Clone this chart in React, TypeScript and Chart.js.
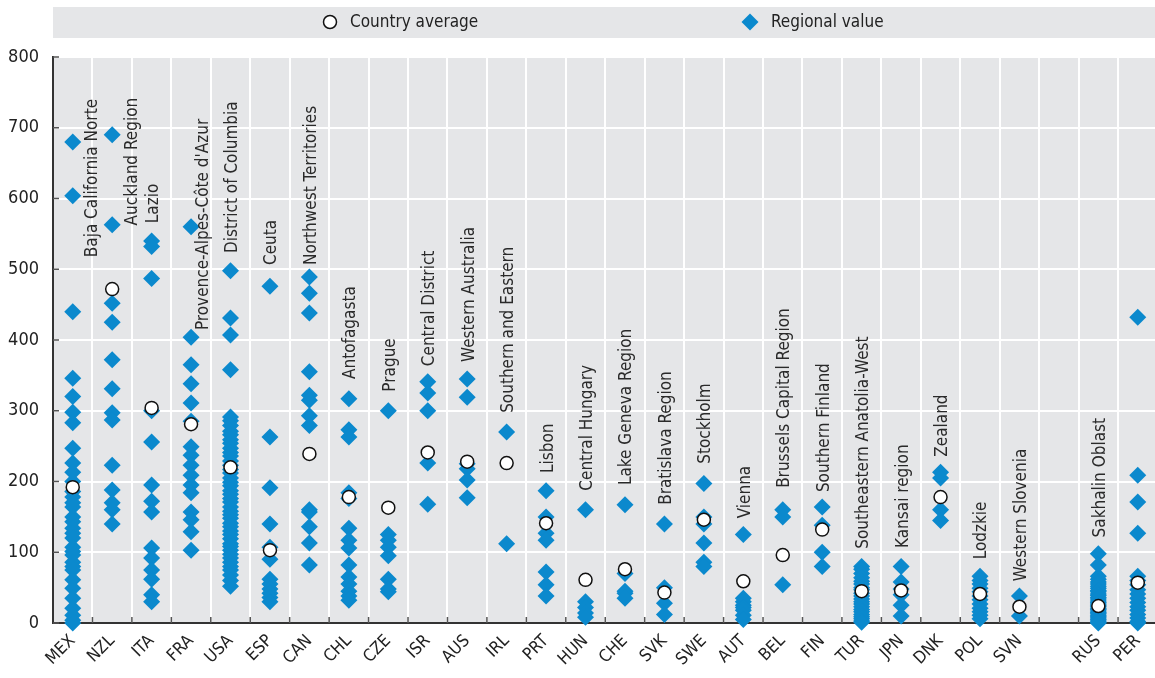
import React, { useEffect, useRef } from 'react';
import { Chart, registerables } from 'chart.js';

Chart.register(...registerables);

const FONT = "'Liberation Sans Narrow', 'Arial Narrow', 'DejaVu Sans Condensed', sans-serif";
const BLUE = '#0b89cd';

const countries = ['MEX', 'NZL', 'ITA', 'FRA', 'USA', 'ESP', 'CAN', 'CHL', 'CZE', 'ISR', 'AUS', 'IRL', 'PRT', 'HUN', 'CHE', 'SVK', 'SWE', 'AUT', 'BEL', 'FIN', 'TUR', 'JPN', 'DNK', 'POL', 'SVN', '', 'RUS', 'PER'];

const countryAverages: (number | null)[] = [192, 472, 304, 281, 220, 103, 239, 178, 163, 241, 228, 226, 141, 61, 76, 43, 146, 59, 96, 132, 45, 46, 178, 41, 23, null, 24, 57];

const regionalValues: number[][] = [
  // MEX
  [680, 604, 440, 346, 320, 298, 283, 247, 226, 213, 200, 186, 178, 170, 164, 150, 143, 134, 127, 120, 107, 101, 96, 86, 80, 75, 61, 49, 35, 21, 11, 4, 0],
  // NZL
  [690, 563, 452, 425, 372, 331, 297, 287, 223, 188, 170, 160, 140],
  // ITA
  [540, 532, 487, 300, 256, 195, 172, 157, 106, 92, 75, 62, 40, 30],
  // FRA
  [560, 404, 365, 338, 311, 285, 249, 237, 223, 209, 195, 184, 157, 146, 129, 103],
  // USA
  [498, 431, 407, 358, 291, 286, 279, 271, 266, 259, 254, 247, 241, 236, 229, 223, 217, 212, 205, 199, 194, 187, 182, 176, 171, 164, 158, 153, 148, 141, 136, 130, 125, 119, 112, 108, 103, 97, 92, 86, 80, 75, 68, 60, 52],
  // ESP
  [476, 263, 191, 140, 107, 90, 62, 55, 48, 42, 36, 30],
  // CAN
  [489, 466, 438, 355, 322, 315, 293, 279, 160, 157, 136, 113, 82],
  // CHL
  [317, 273, 263, 184, 176, 134, 117, 106, 82, 65, 55, 45, 38, 32],
  // CZE
  [300, 125, 117, 107, 95, 62, 48, 44],
  // ISR
  [341, 325, 300, 226, 168],
  // AUS
  [345, 319, 225, 218, 202, 177],
  // IRL
  [270, 112],
  // PRT
  [187, 150, 127, 117, 72, 54, 38],
  // HUN
  [160, 30, 22, 14, 8],
  // CHE
  [167, 70, 45, 42, 35],
  // SVK
  [140, 50, 28, 12],
  // SWE
  [197, 150, 140, 113, 86, 80],
  // AUT
  [125, 35, 30, 25, 22, 18, 11, 5],
  // BEL
  [160, 150, 54],
  // FIN
  [164, 138, 100, 80],
  // TUR
  [80, 76, 70, 64, 59, 55, 50, 47, 42, 38, 34, 30, 27, 23, 19, 16, 12, 9, 6, 3, 1],
  // JPN
  [80, 58, 48, 40, 25, 10],
  // DNK
  [213, 205, 160, 145],
  // POL
  [66, 60, 55, 49, 44, 38, 33, 27, 21, 16, 11, 6],
  // SVN
  [38, 10],
  // (gap)
  [],
  // RUS
  [98, 82, 66, 62, 58, 55, 52, 49, 46, 44, 41, 39, 36, 34, 31, 29, 27, 25, 23, 21, 19, 17, 15, 13, 11, 9, 7, 5, 3, 1, 0],
  // PER
  [432, 209, 171, 127, 66, 60, 54, 47, 41, 35, 29, 23, 18, 12, 7, 2, 0],
];

const regionLabels = ['Baja California Norte', 'Auckland Region', 'Lazio', "Provence-Alpes-Côte d'Azur", 'District of Columbia', 'Ceuta', 'Northwest Territories', 'Antofagasta', 'Prague', 'Central District', 'Western Australia', 'Southern and Eastern', 'Lisbon', 'Central Hungary', 'Lake Geneva Region', 'Bratislava Region', 'Stockholm', 'Vienna', 'Brussels Capital Region', 'Southern Finland', 'Southeastern Anatolia-West', 'Kansai region', 'Zealand', 'Lodzkie', 'Western Slovenia', '', 'Sakhalin Oblast', ''];

// where each rotated region label starts (value on the y axis)
const regionLabelStart = [517, 562, 565, 414, 523, 506, 506, 345, 327, 363, 369, 297, 212, 187, 195, 167, 225, 148, 191, 185, 105, 106, 235, 90, 59, 0, 121, 0];

const yTicks = [0, 100, 200, 300, 400, 500, 600, 700, 800];

// layout-only: horizontal shift (px) of each region label from its category centre
const labelShift = (i: number) => (i === 0 || i === 1 ? 20 : i === 3 ? 13 : 2);

const bgPlugin = {
  id: 'bg',
  beforeDraw(chart: any) {
    const { ctx, chartArea } = chart;
    ctx.save();
    ctx.fillStyle = '#e5e6e8';
    ctx.fillRect(chartArea.left, chartArea.top, chartArea.right - chartArea.left, chartArea.bottom - chartArea.top);
    // legend band
    ctx.fillRect(53, 7, chart.width - 53, 31);
    // legend items
    ctx.beginPath();
    ctx.arc(330, 22, 6.5, 0, Math.PI * 2);
    ctx.fillStyle = '#fff';
    ctx.fill();
    ctx.lineWidth = 1.5;
    ctx.strokeStyle = '#111';
    ctx.stroke();
    ctx.beginPath();
    ctx.moveTo(750, 13.5);
    ctx.lineTo(758.5, 22);
    ctx.lineTo(750, 30.5);
    ctx.lineTo(741.5, 22);
    ctx.closePath();
    ctx.fillStyle = BLUE;
    ctx.fill();
    ctx.fillStyle = '#222';
    ctx.font = `17px ${FONT}`;
    ctx.textBaseline = 'middle';
    ctx.textAlign = 'left';
    ctx.fillText('Country average', 350, 23);
    ctx.fillText('Regional value', 771, 23);
    ctx.restore();
  },
  beforeDatasetsDraw(chart: any) {
    const { ctx, chartArea, scales } = chart;
    const n = countries.length;
    const w = (chartArea.right - chartArea.left) / n;
    ctx.save();
    ctx.strokeStyle = '#555';
    ctx.lineWidth = 1.5;
    ctx.beginPath();
    for (let i = 1; i <= n; i++) {
      const x = chartArea.left + i * w;
      ctx.moveTo(x, chartArea.bottom);
      ctx.lineTo(x, chartArea.bottom - 6);
    }
    for (const t of yTicks) {
      const y = scales.y.getPixelForValue(t);
      ctx.moveTo(chartArea.left, y);
      ctx.lineTo(chartArea.left + 6, y);
    }
    ctx.stroke();
    ctx.restore();
  },
  afterDatasetsDraw(chart: any) {
    const { ctx, scales } = chart;
    ctx.save();
    ctx.fillStyle = '#2a2a2a';
    ctx.font = `17px ${FONT}`;
    ctx.textBaseline = 'middle';
    ctx.textAlign = 'left';
    regionLabels.forEach((label, i) => {
      if (!label) return;
      const x = scales.x.getPixelForValue(i) + labelShift(i);
      const y = scales.y.getPixelForValue(regionLabelStart[i]);
      ctx.save();
      ctx.translate(x, y);
      ctx.rotate(-Math.PI / 2);
      ctx.fillText(label, 0, 0);
      ctx.restore();
    });
    ctx.restore();
  },
};

export default function App() {
  const canvasRef = useRef<HTMLCanvasElement | null>(null);

  useEffect(() => {
    if (!canvasRef.current) return;
    const avgData = countries
      .map((c, i) => (countryAverages[i] == null ? null : { x: c, y: countryAverages[i] as number }))
      .filter((d) => d !== null) as { x: string; y: number }[];
    const regData: { x: string; y: number }[] = [];
    countries.forEach((c, i) => {
      regionalValues[i].forEach((v) => regData.push({ x: c, y: v }));
    });

    const chart = new Chart(canvasRef.current, {
      type: 'scatter',
      data: {
        labels: countries,
        datasets: [
          {
            label: 'Country average',
            data: avgData as any,
            pointStyle: 'circle',
            pointRadius: 6.5,
            pointBorderWidth: 1.5,
            pointBackgroundColor: '#ffffff',
            pointBorderColor: '#111111',
            clip: false as any,
          },
          {
            label: 'Regional value',
            data: regData as any,
            pointStyle: 'rectRot',
            pointRadius: 8.5,
            pointBorderWidth: 0,
            pointBackgroundColor: BLUE,
            pointBorderColor: BLUE,
            clip: false as any,
          },
        ],
      },
      options: {
        animation: false,
        responsive: false,
        layout: { padding: { top: 57, right: 1, left: 0, bottom: 0 } },
        plugins: {
          legend: { display: false },
          tooltip: { enabled: false },
        },
        scales: {
          x: {
            type: 'category',
            labels: countries,
            offset: true,
            grid: { offset: true, color: '#ffffff', lineWidth: 2, drawTicks: false },
            border: { display: true, color: '#333333', width: 2 },
            ticks: {
              autoSkip: false,
              maxRotation: 45,
              minRotation: 45,
              padding: 8,
              color: '#222222',
              font: { family: FONT, size: 17 },
            },
            afterFit: (s: any) => {
              s.height = 55;
              s.paddingRight = 0;
              s.paddingLeft = 0;
            },
          },
          y: {
            min: 0,
            max: 800,
            ticks: {
              stepSize: 100,
              padding: 14,
              color: '#222222',
              font: { family: FONT, size: 18 },
            },
            grid: { color: '#ffffff', lineWidth: 2, drawTicks: false },
            border: { display: true, color: '#333333', width: 2 },
            afterFit: (s: any) => {
              s.width = 53;
            },
          },
        },
      } as any,
      plugins: [bgPlugin],
    });
    return () => chart.destroy();
  }, []);

  return (
    <div style={{ position: 'fixed', left: 0, top: 0, width: 1155, height: 678, overflow: 'hidden', background: '#fff' }}>
      <canvas ref={canvasRef} width={1166} height={678} style={{ display: 'block', width: 1166, height: 678 }} />
    </div>
  );
}
